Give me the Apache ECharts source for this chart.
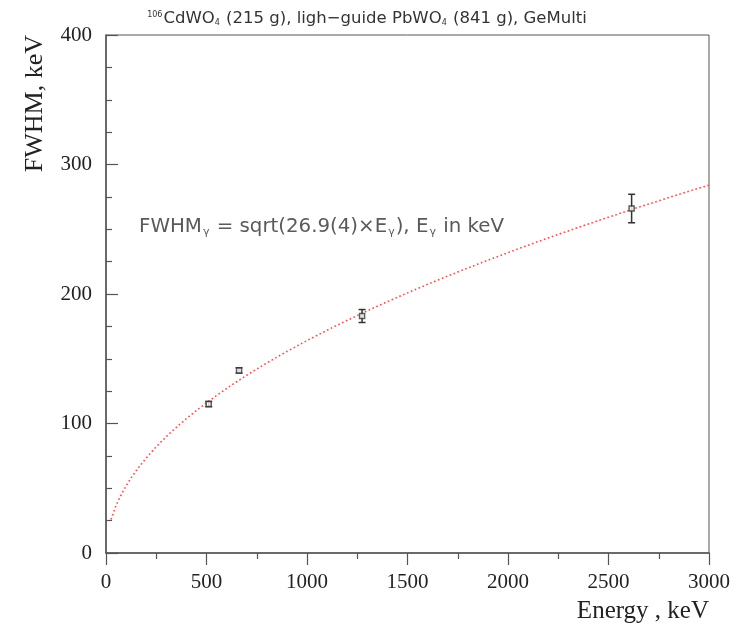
<!DOCTYPE html>
<html>
<head>
<meta charset="utf-8">
<script src="https://cdn.jsdelivr.net/npm/echarts@6/dist/echarts.min.js"></script>
<style>
  html, body { margin: 0; padding: 0; background: #fff; }
  #chart { width: 736px; height: 625px; }
</style>
</head>
<body>
<div id="chart"></div>
<script>
// Measured gamma lines: energy (keV), FWHM (keV), FWHM uncertainty (keV)
const energies = [511, 662, 1274, 2615];
const fwhm = [115, 141, 183, 266];
const fwhmErr = [2, 2, 5, 11];

// Fit: FWHM = sqrt(a * E)
const fitCoef = 26.9;
const fitStart = 25, fitEnd = 3000, fitStep = 25;

const xTicks = [0, 500, 1000, 1500, 2000, 2500, 3000];
const yTicks = [0, 100, 200, 300, 400];

const fitCurve = [];
for (let e = fitStart; e <= fitEnd; e += fitStep) {
  fitCurve.push([e, Math.sqrt(fitCoef * e)]);
}

const points = energies.map((e, i) => [e, fwhm[i]]);
const errData = energies.map((e, i) => [e, fwhm[i] - fwhmErr[i], fwhm[i] + fwhmErr[i]]);

const serif = '"Liberation Serif", "Times New Roman", serif';
const sans = '"DejaVu Sans", Verdana, sans-serif';
const axisColor = '#555';

const chart = echarts.init(document.getElementById('chart'), null, { renderer: 'canvas' });

chart.setOption({
  backgroundColor: '#fff',
  animation: false,
  title: [
    {
      text: '{sup|106}{t|CdWO}{sub|4}{t| (215 g), ligh\u2212guide PbWO}{sub|4}{t| (841 g), GeMulti}',
      left: 362, top: 3, textAlign: 'center',
      textStyle: {
        fontWeight: 'normal',
        rich: {
          t: { fontFamily: sans, fontSize: 16.5, fontWeight: 'normal', color: '#333', lineHeight: 22 },
          sup: { fontFamily: sans, fontSize: 8, fontWeight: 'normal', color: '#333', padding: [0, 1, 8, 0] },
          sub: { fontFamily: sans, fontSize: 8, fontWeight: 'normal', color: '#333', padding: [7, 1, 0, 0] }
        }
      }
    },
    {
      text: '{t|FWHM}{sub|\u03b3}{t| = sqrt(26.9(4)\u00d7E}{sub|\u03b3}{t|), E}{sub|\u03b3}{t| in keV}',
      left: 134, top: 209,
      textStyle: {
        fontWeight: 'normal',
        rich: {
          t: { fontFamily: sans, fontSize: 19.8, fontWeight: 'normal', color: '#5a5a5a', lineHeight: 26 },
          sub: { fontFamily: sans, fontSize: 11, fontWeight: 'normal', color: '#5a5a5a', padding: [10, 1, 0, 1] }
        }
      }
    }
  ],
  grid: {
    left: 106, right: 27, top: 35, bottom: 72,
    show: true, borderColor: axisColor, borderWidth: 1, backgroundColor: 'transparent'
  },
  xAxis: {
    type: 'value', min: xTicks[0], max: xTicks[xTicks.length - 1], interval: 500,
    name: 'Energy , keV', nameLocation: 'end', nameGap: 0,
    nameTextStyle: {
      fontFamily: serif, fontSize: 25, color: '#222',
      align: 'right', verticalAlign: 'top', padding: [46, 0, 0, 0]
    },
    axisLine: { show: true, lineStyle: { color: axisColor, width: 1.5 } },
    axisTick: { show: true, inside: false, length: 12, lineStyle: { color: axisColor, width: 1.2 } },
    minorTick: { show: true, splitNumber: 2, length: 6, lineStyle: { color: axisColor, width: 1.2 } },
    splitLine: { show: false },
    axisLabel: { fontFamily: serif, fontSize: 21, color: '#222', margin: 19, formatter: v => String(v) }
  },
  yAxis: {
    type: 'value', min: yTicks[0], max: yTicks[yTicks.length - 1], interval: 100,
    name: 'FWHM, keV', nameLocation: 'end', nameRotate: 90, nameGap: 0,
    nameTextStyle: {
      fontFamily: serif, fontSize: 26, color: '#222',
      align: 'right', verticalAlign: 'bottom', padding: [0, 0, 58, 0]
    },
    axisLine: { show: true, lineStyle: { color: axisColor, width: 1.5 } },
    axisTick: { show: true, inside: true, length: 12, lineStyle: { color: axisColor, width: 1.2 } },
    minorTick: { show: true, splitNumber: 4, length: 6, lineStyle: { color: axisColor, width: 1.2 } },
    splitLine: { show: false },
    axisLabel: { fontFamily: serif, fontSize: 21, color: '#222', margin: 14, formatter: v => String(v) }
  },
  series: [
    {
      type: 'line',
      data: fitCurve,
      showSymbol: false,
      smooth: false,
      lineStyle: { color: '#ff4a4a', width: 1.6, type: [1.6, 2.6] },
      z: 2
    },
    {
      type: 'custom',
      data: errData,
      renderItem: function (params, api) {
        const x = api.coord([api.value(0), api.value(1)])[0];
        const yLow = api.coord([api.value(0), api.value(1)])[1];
        const yHigh = api.coord([api.value(0), api.value(2)])[1];
        const cap = 3.5;
        const style = { stroke: '#333', lineWidth: 1.5, fill: null };
        return {
          type: 'group',
          children: [
            { type: 'line', shape: { x1: x, y1: yLow, x2: x, y2: yHigh }, style: style },
            { type: 'line', shape: { x1: x - cap, y1: yLow, x2: x + cap, y2: yLow }, style: style },
            { type: 'line', shape: { x1: x - cap, y1: yHigh, x2: x + cap, y2: yHigh }, style: style }
          ]
        };
      },
      z: 3
    },
    {
      type: 'scatter',
      data: points,
      symbol: 'rect',
      symbolSize: 5,
      itemStyle: { color: '#fff', borderColor: '#333', borderWidth: 1.5 },
      z: 4
    }
  ]
});
</script>
</body>
</html>
